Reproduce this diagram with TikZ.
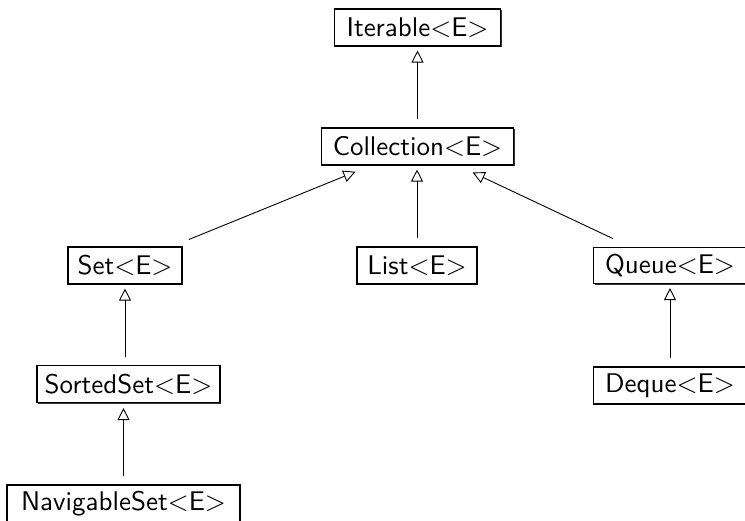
\documentclass[tikz,border=0pt]{standalone}
\usepackage{fontspec}
\setsansfont{lmsans10-regular}[Extension=.otf]
\usetikzlibrary{arrows.meta,shadows}
\begin{document}
\begin{tikzpicture}[x=1pt,y=-1pt,
  cls/.style={draw, line width=1.1pt, fill=white, inner sep=0pt,
    font=\sffamily\fontsize{27}{32}\selectfont,
    drop shadow={shadow xshift=1.2pt, shadow yshift=-1.2pt, fill=black, opacity=0.8}},
  inh/.style={draw, line width=0.9pt, -{Triangle[open,length=12pt,width=12pt]}}]
\useasboundingbox (0,0) rectangle (745,521);
\clip (0,0) rectangle (745,521);
\node[cls, minimum width=166pt, minimum height=37pt] (iter) at (417.5,27.5) {Iterable<E>};
\node[cls, minimum width=192pt, minimum height=37pt] (coll) at (417.5,146.5) {Collection<E>};
\node[cls, minimum width=114pt, minimum height=37pt] (set) at (125,265.5) {Set<E>};
\node[cls, minimum width=120pt, minimum height=37pt] (list) at (417,265.5) {List<E>};
\node[cls, minimum width=153pt, minimum height=36pt] (queue) at (670,265.5) {Queue<E>};
\node[cls, minimum width=153pt, minimum height=37pt] (deque) at (670,385.5) {Deque<E>};
\node[cls, minimum width=183pt, minimum height=37pt] (sorted) at (128.5,384) {SortedSet<E>};
\node[cls, minimum width=233pt, minimum height=37pt] (nav) at (123.5,503.5) {NavigableSet<E>};
% connectors
\draw[inh, shorten <=8pt, shorten >=4pt] (coll.north) -- (iter.south);
\draw[inh, shorten <=8pt, shorten >=4pt] (list.north) -- (list.north |- coll.south);
\draw[inh, shorten <=68.9pt, shorten >=67pt] (set.center) -- (coll.center);
\draw[inh, shorten <=62.9pt, shorten >=61pt] (queue.center) -- (coll.center);
\draw[inh, shorten <=8pt, shorten >=4pt] (sorted.north -| set.south) -- (set.south);
\draw[inh, shorten <=8pt, shorten >=5pt] (nav.north) -- (nav.north |- sorted.south);
\draw[inh, shorten <=8pt, shorten >=4pt] (deque.north) -- (queue.south);
\end{tikzpicture}
\end{document}
